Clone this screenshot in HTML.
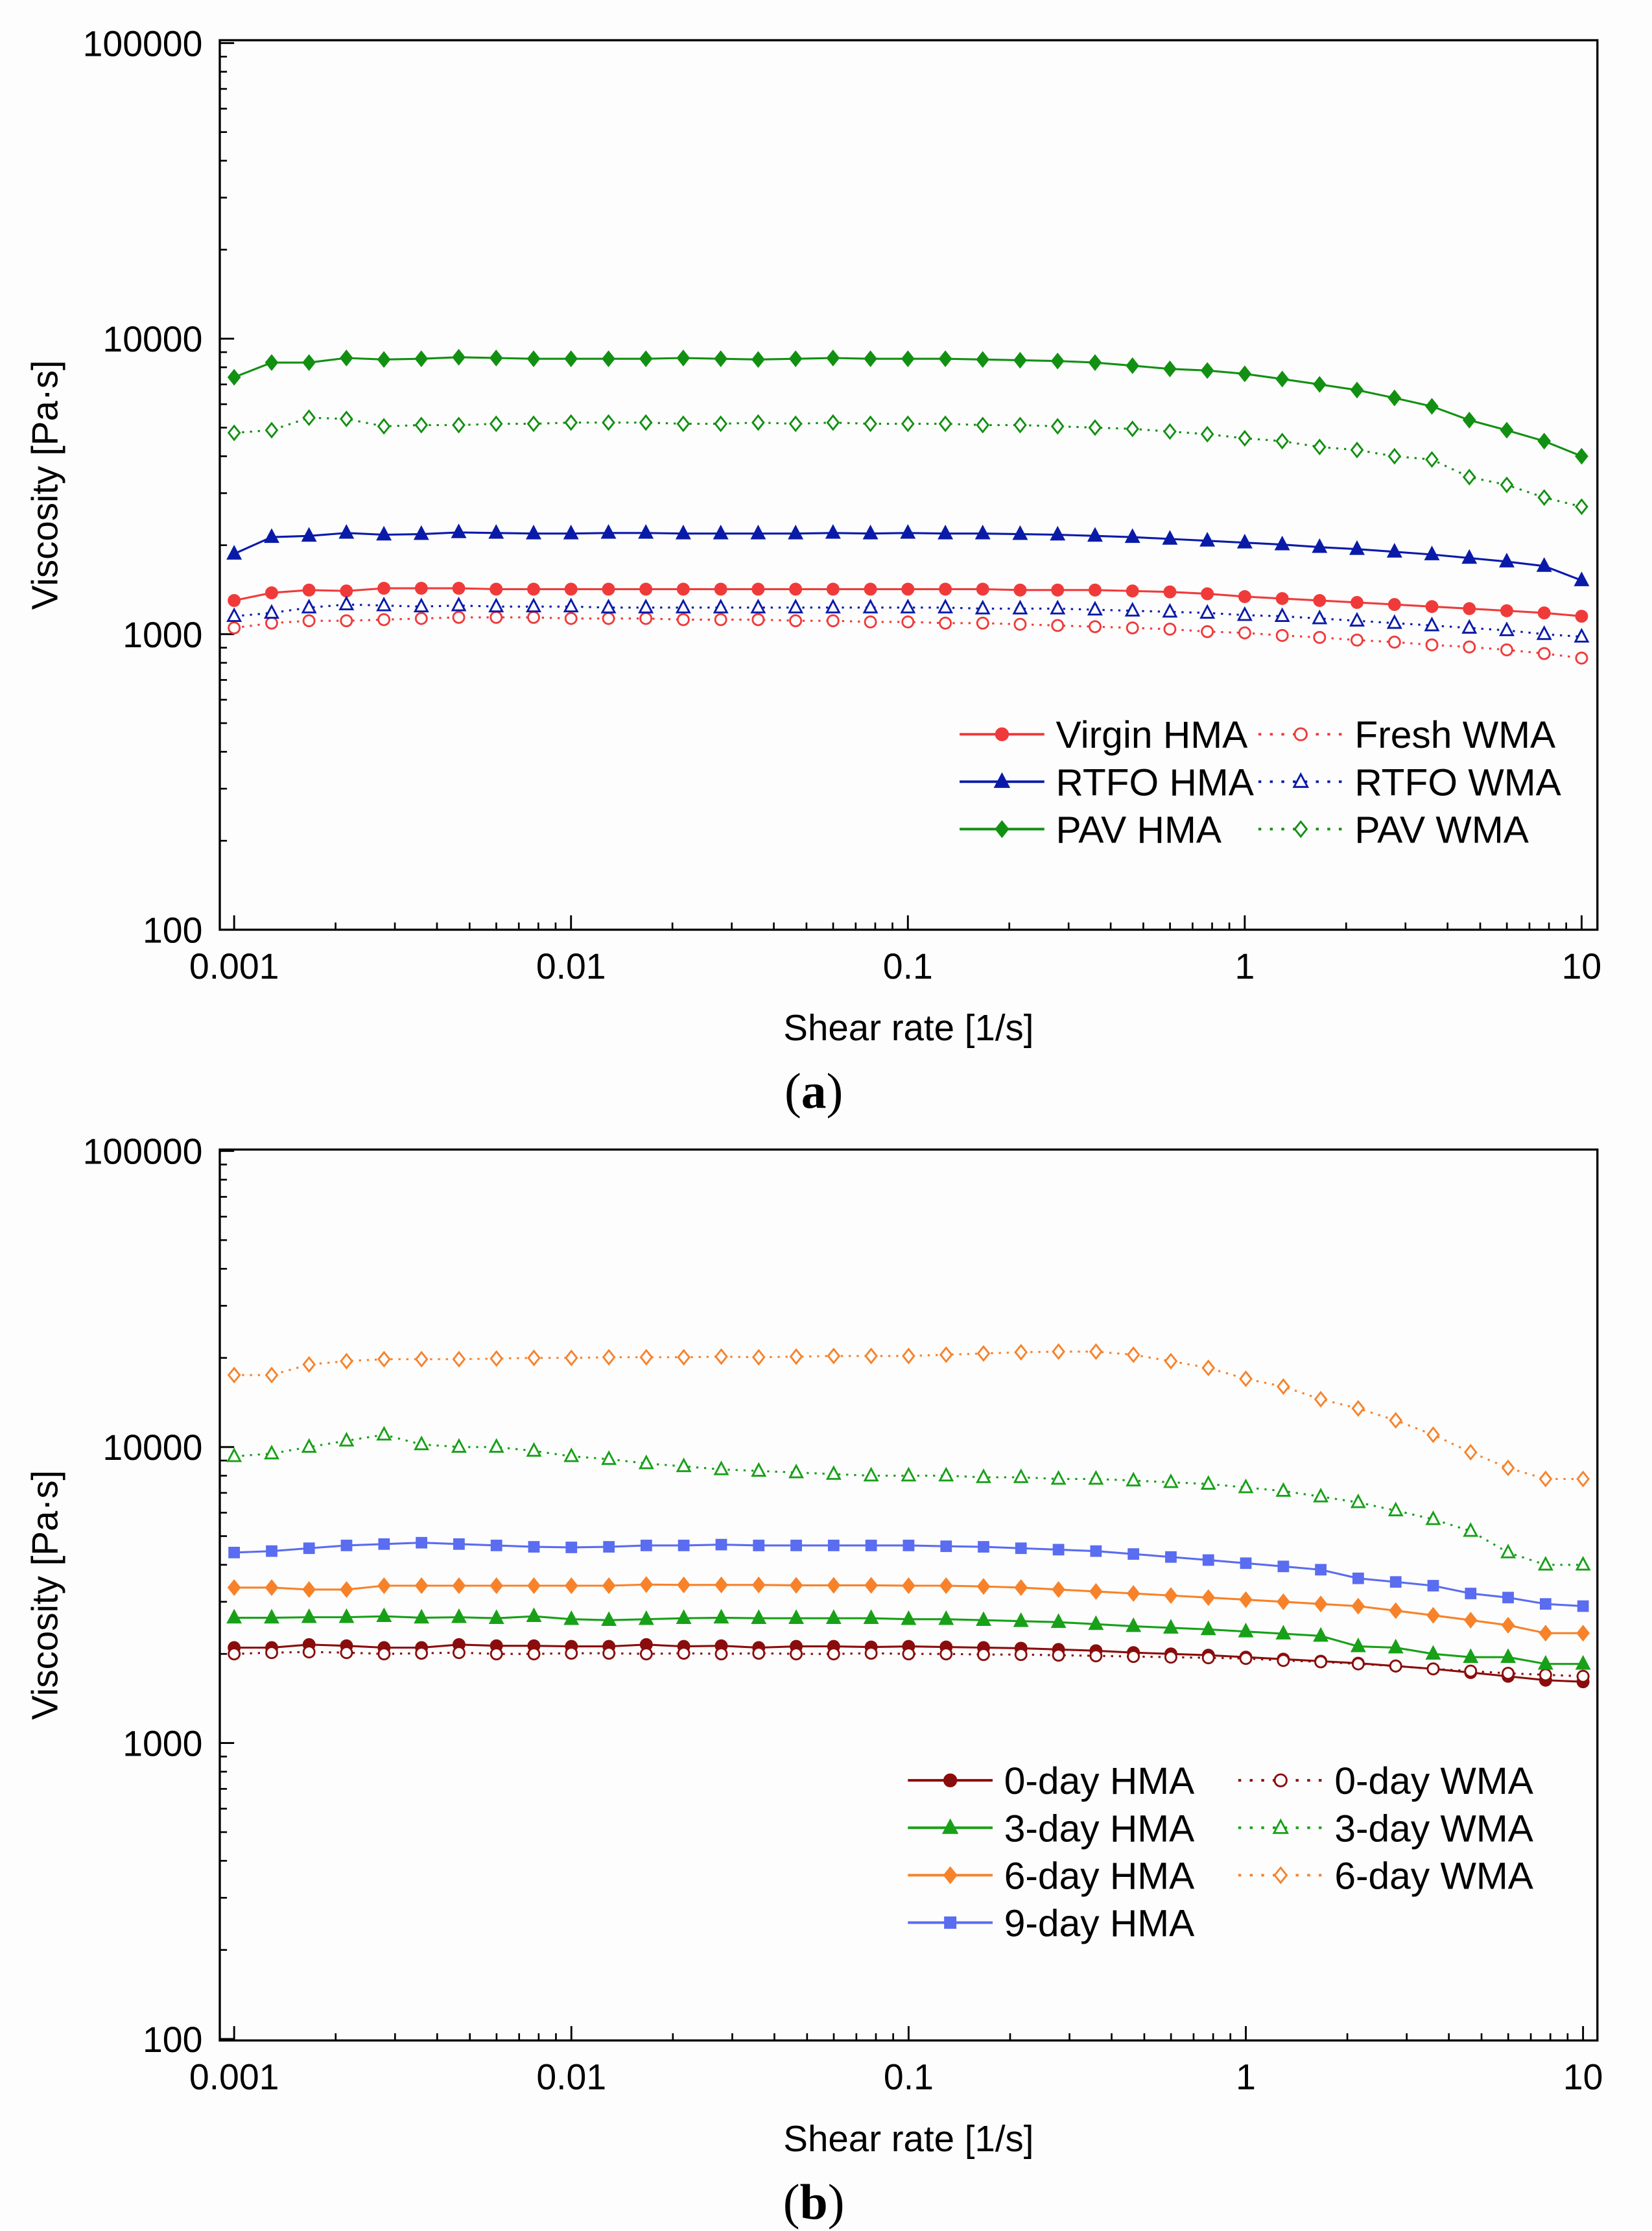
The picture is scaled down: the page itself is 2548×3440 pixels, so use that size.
<!DOCTYPE html>
<html><head><meta charset="utf-8"><style>
html,body{margin:0;padding:0;background:#fdfdfd;}
svg{display:block;}
text{font-family:"Liberation Sans",sans-serif;fill:#000;}
</style></head>
<body>
<svg id="fig" width="2548" height="3440" viewBox="0 0 1150 1552.6" preserveAspectRatio="none" xmlns="http://www.w3.org/2000/svg">
<rect x="0" y="0" width="1150" height="1553" fill="#fdfdfd"/>
<g id="pa"></g>
<g id="pb"></g>
</svg>
<script>
const xVals=[0.001,0.001292,0.001668,0.002154,0.002783,0.003594,0.004642,0.005995,0.007743,
0.01,0.01292,0.01668,0.02154,0.02783,0.03594,0.04642,0.05995,0.07743,
0.1,0.1292,0.1668,0.2154,0.2783,0.3594,0.4642,0.5995,0.7743,
1,1.292,1.668,2.154,2.783,3.594,4.642,5.995,7.743,10];
const xTicks=[0.001,0.01,0.1,1,10];
const xTickLabels=["0.001","0.01","0.1","1","10"];
const yTicks=[100,1000,10000,100000];
const yTickLabels=["100","1000","10000","100000"];

const virginHMA=[1300,1380,1410,1400,1430,1430,1430,1420,1420,1420,1420,1420,1420,1420,1420,1420,1420,1420,1420,1420,1420,1410,1410,1410,1400,1390,1370,1340,1320,1300,1280,1260,1240,1220,1200,1180,1150];
const freshWMA=[1050,1090,1110,1110,1120,1130,1140,1140,1140,1130,1130,1130,1120,1120,1120,1110,1110,1100,1100,1090,1090,1080,1070,1060,1050,1040,1020,1010,990,975,955,940,920,905,885,860,830];
const rtfoHMA=[1870,2130,2150,2200,2170,2180,2210,2200,2190,2190,2200,2200,2190,2190,2190,2190,2200,2190,2200,2190,2190,2180,2170,2150,2130,2100,2070,2040,2010,1970,1940,1900,1860,1810,1760,1700,1520];
const rtfoWMA=[1150,1180,1230,1260,1250,1240,1250,1240,1240,1240,1230,1230,1230,1230,1230,1230,1230,1230,1230,1230,1220,1220,1220,1210,1200,1190,1180,1160,1150,1130,1110,1090,1070,1050,1030,1000,980];
const pavHMA=[7400,8300,8300,8600,8500,8550,8650,8600,8550,8550,8550,8550,8600,8550,8500,8550,8600,8550,8550,8550,8500,8450,8400,8300,8100,7900,7800,7600,7300,7000,6700,6300,5900,5300,4900,4500,4000];
const pavWMA=[4800,4900,5400,5350,5050,5100,5100,5150,5150,5200,5200,5200,5150,5150,5200,5150,5200,5150,5150,5150,5100,5100,5050,5000,4950,4850,4750,4600,4500,4300,4200,4000,3900,3400,3200,2900,2700];

const day0HMA=[2100,2100,2150,2130,2100,2100,2150,2130,2130,2120,2120,2150,2120,2130,2100,2120,2120,2110,2120,2110,2100,2090,2070,2050,2020,2000,1980,1950,1920,1890,1860,1820,1780,1730,1680,1630,1610];
const day0WMA=[2000,2020,2030,2020,2000,2010,2020,2000,2000,2010,2010,2000,2010,2000,2010,2000,2000,2010,2000,2000,1990,1990,1980,1970,1960,1950,1940,1930,1900,1880,1850,1820,1780,1750,1720,1700,1680];
const day3HMA=[2650,2650,2660,2660,2680,2650,2660,2640,2680,2620,2600,2620,2640,2650,2640,2640,2640,2640,2620,2620,2600,2580,2560,2520,2480,2450,2420,2380,2340,2300,2120,2100,2000,1950,1950,1850,1850];
const day3WMA=[9300,9500,10000,10500,11000,10200,10000,10000,9700,9300,9100,8800,8600,8400,8300,8200,8100,8000,8000,8000,7900,7900,7800,7800,7700,7600,7500,7300,7100,6800,6500,6100,5700,5200,4400,4000,4000];
const day6HMA=[3350,3350,3300,3300,3400,3400,3400,3400,3400,3400,3400,3430,3420,3420,3420,3410,3410,3410,3400,3400,3380,3350,3300,3250,3200,3150,3100,3050,3000,2950,2900,2800,2700,2600,2500,2350,2350];
const day6WMA=[17500,17500,19000,19500,19800,19800,19800,19900,20000,20000,20100,20100,20100,20200,20100,20200,20300,20300,20300,20500,20700,20900,21000,21000,20500,19500,18500,17000,16000,14500,13500,12300,11000,9600,8500,7800,7800];
const day9HMA=[4400,4450,4550,4650,4700,4750,4700,4650,4600,4580,4600,4650,4650,4680,4650,4650,4650,4650,4650,4620,4600,4550,4500,4450,4350,4250,4150,4050,3950,3850,3600,3500,3400,3200,3100,2950,2900];

const NS="http://www.w3.org/2000/svg";
function mk(parent,tag,attrs){const e=document.createElementNS(NS,tag);for(const k in attrs)e.setAttribute(k,attrs[k]);parent.appendChild(e);return e;}

function marker(g,shape,cx,cy,color,filled,s){
  let e;
  const fill=filled?color:"#fdfdfd";
  if(shape==="circle"){e=mk(g,"circle",{cx:cx,cy:cy,r:s*0.8,fill:fill,stroke:color,"stroke-width":1.3});}
  else if(shape==="tri"){e=mk(g,"polygon",{points:`${cx},${cy-s} ${cx-s*0.9},${cy+s*0.7} ${cx+s*0.9},${cy+s*0.7}`,fill:fill,stroke:color,"stroke-width":1.3});}
  else if(shape==="diamond"){e=mk(g,"polygon",{points:`${cx},${cy-s} ${cx+s*0.8},${cy} ${cx},${cy+s} ${cx-s*0.8},${cy}`,fill:fill,stroke:color,"stroke-width":1.3});}
  else {e=mk(g,"rect",{x:cx-s*0.7,y:cy-s*0.7,width:s*1.4,height:s*1.4,fill:fill,stroke:color,"stroke-width":1.3});}
  return e;
}

function panel(gid,box,series,legend,label){
  const g=document.getElementById(gid);
  const {L,R,T,B,x0,x1,yTop,yBot}=box;
  const xs=v=>x0+(Math.log10(v)+3)/4*(x1-x0);
  const ys=v=>yTop+(5-Math.log10(v))/3*(yBot-yTop);
  for(let d=-3;d<1;d++){for(let m=2;m<=9;m++){const x=xs(m*Math.pow(10,d));
    const t=mk(g,"line",{x1:x,x2:x,y1:B,y2:B-5,stroke:"#000","stroke-width":1.2});
    
    }}
  for(let d=2;d<5;d++){for(let m=2;m<=9;m++){const y=ys(m*Math.pow(10,d));
    const t=mk(g,"line",{x1:L,x2:L+5,y1:y,y2:y,stroke:"#000","stroke-width":1.2});
    
    }}
  xTicks.forEach((v,i)=>{const x=xs(v);
    const t=mk(g,"line",{x1:x,x2:x,y1:B,y2:B-10,stroke:"#000","stroke-width":1.3});
    
    
    const tx=mk(g,"text",{x:x,y:B+34,"text-anchor":"middle","font-size":25});tx.textContent=xTickLabels[i];
    
    });
  yTicks.forEach((v,i)=>{const y=ys(v);
    const t=mk(g,"line",{x1:L,x2:L+10,y1:y,y2:y,stroke:"#000","stroke-width":1.3});
    
    
    const tx=mk(g,"text",{x:L-12,y:y+9,"text-anchor":"end","font-size":25});tx.textContent=yTickLabels[i];
    
    });
  const frame=mk(g,"rect",{x:L,y:T,width:R-L,height:B-T,fill:"none",stroke:"#000","stroke-width":1.5});
  
  
  series.forEach(s=>{
    const sg=mk(g,"g",{});
    
    
    const pts=s.data.map((v,i)=>xs(xVals[i]).toFixed(2)+","+ys(v).toFixed(2)).join(" ");
    const pl=mk(sg,"polyline",{points:pts,fill:"none",stroke:s.color,"stroke-width":1.4,"stroke-dasharray":s.filled?"none":"1.5,4"});
    
    
    s.data.forEach((v,i)=>{const m=marker(sg,s.shape,xs(xVals[i]),ys(v),s.color,s.filled,4.8);
      
      });
  });
  const lg=mk(g,"g",{});
  
  
  legend.forEach(e=>{
    const eg=mk(lg,"g",{});
    
    
    mk(eg,"line",{x1:e.x,x2:e.x+59,y1:e.y,y2:e.y,stroke:e.s.color,"stroke-width":1.8,"stroke-dasharray":e.s.filled?"none":"2,6"});
    marker(eg,e.s.shape,e.x+29.5,e.y,e.s.color,e.s.filled,5.2);
    const t=mk(eg,"text",{x:e.x+67,y:e.y+9.5,"font-size":26.5});t.textContent=e.s.label;
  });
  const xt=mk(g,"text",{x:(L+R)/2,y:B+77,"text-anchor":"middle","font-size":25.5});xt.textContent="Shear rate [1/s]";
  
  
  const cy=(T+B)/2;
  const yt=mk(g,"text",{x:40,y:cy,"text-anchor":"middle","font-size":25.5,transform:`rotate(-90 40 ${cy})`});yt.textContent="Viscosity [Pa·s]";
  
  
  const pl=mk(g,"text",{x:(L+R)/2-66,y:B+124,"text-anchor":"middle","font-size":35,style:"font-family:'Liberation Serif',serif"});
  pl.innerHTML='(<tspan font-weight="bold">'+label+'</tspan>)';
  
  
}

const red="#f03a3a",blue="#0a1aa8",green="#129012",dred="#8a0c0c",grn2="#18a018",orange="#f7822a",lblue="#5a6cf0";
const sA=[
 {name:"virgin-hma",label:"Virgin HMA",data:virginHMA,color:red,shape:"circle",filled:true},
 {name:"fresh-wma",label:"Fresh WMA",data:freshWMA,color:red,shape:"circle",filled:false},
 {name:"rtfo-hma",label:"RTFO HMA",data:rtfoHMA,color:blue,shape:"tri",filled:true},
 {name:"rtfo-wma",label:"RTFO WMA",data:rtfoWMA,color:blue,shape:"tri",filled:false},
 {name:"pav-hma",label:"PAV HMA",data:pavHMA,color:green,shape:"diamond",filled:true},
 {name:"pav-wma",label:"PAV WMA",data:pavWMA,color:green,shape:"diamond",filled:false}];
panel("pa",{L:153,R:1112,T:28,B:647,x0:163,x1:1101,yTop:30,yBot:647},sA,[
 {s:sA[0],x:668,y:511},{s:sA[1],x:876,y:511},
 {s:sA[2],x:668,y:544},{s:sA[3],x:876,y:544},
 {s:sA[4],x:668,y:577},{s:sA[5],x:876,y:577}],"a");
const sB=[
 {name:"day0-hma",label:"0-day HMA",data:day0HMA,color:dred,shape:"circle",filled:true},
 {name:"day0-wma",label:"0-day WMA",data:day0WMA,color:dred,shape:"circle",filled:false},
 {name:"day3-hma",label:"3-day HMA",data:day3HMA,color:grn2,shape:"tri",filled:true},
 {name:"day3-wma",label:"3-day WMA",data:day3WMA,color:grn2,shape:"tri",filled:false},
 {name:"day6-hma",label:"6-day HMA",data:day6HMA,color:orange,shape:"diamond",filled:true},
 {name:"day6-wma",label:"6-day WMA",data:day6WMA,color:orange,shape:"diamond",filled:false},
 {name:"day9-hma",label:"9-day HMA",data:day9HMA,color:lblue,shape:"square",filled:true}];
panel("pb",{L:153,R:1112,T:800,B:1420,x0:163,x1:1102,yTop:801,yBot:1419},sB,[
 {s:sB[0],x:632,y:1239},{s:sB[1],x:862,y:1239},
 {s:sB[2],x:632,y:1272},{s:sB[3],x:862,y:1272},
 {s:sB[4],x:632,y:1305},{s:sB[5],x:862,y:1305},
 {s:sB[6],x:632,y:1338}],"b");
</script>
</body></html>
